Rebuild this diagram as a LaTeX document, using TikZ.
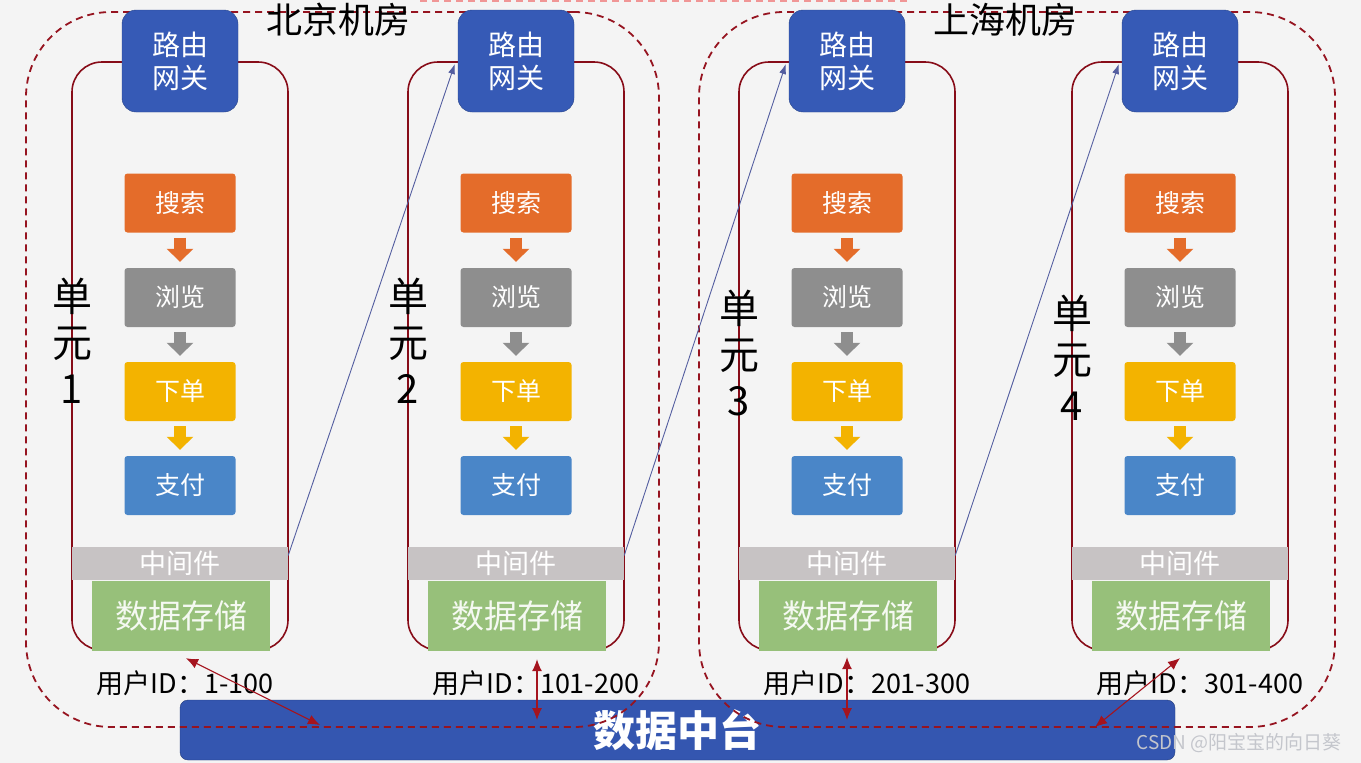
\documentclass[tikz,border=0pt]{standalone}
\usepackage{fontspec}
\setmainfont{Noto Sans CJK SC}
\usetikzlibrary{arrows.meta,positioning,calc}
\definecolor{DuBg}{RGB}{244,244,244}
\definecolor{DuRed}{RGB}{135,12,24}
\definecolor{DuDash}{RGB}{150,20,32}
\definecolor{DuPink}{RGB}{240,150,150}
\definecolor{DuArrow}{RGB}{165,20,30}
\definecolor{DuRoute}{RGB}{54,90,182}
\definecolor{DuOrange}{RGB}{228,108,42}
\definecolor{DuGray}{RGB}{142,142,142}
\definecolor{DuGold}{RGB}{243,179,0}
\definecolor{DuSky}{RGB}{74,134,200}
\definecolor{DuMid}{RGB}{199,195,196}
\definecolor{DuGreen}{RGB}{151,192,122}
\definecolor{DuHub}{RGB}{52,86,176}
\definecolor{DuLink}{RGB}{84,94,160}
\definecolor{DuMark}{RGB}{196,198,204}
\tikzset{
  du/unit/.style={
    draw=DuRed,
    line width=1.6pt,
    rounded corners=30pt,
    minimum width=216pt,
    minimum height=588pt
  },
  du/room/.style={
    draw=DuDash,
    line width=1.8pt,
    dash pattern=on 7pt off 5pt,
    rounded corners=85pt
  },
  du/gateway/.style={
    fill=DuRoute,
    draw=DuRoute!75!black,
    rounded corners=14pt,
    minimum width=116pt,
    minimum height=102pt,
    align=center,
    text=white,
    font=\fontsize{28}{33}\selectfont
  },
  du/proc/.style={
    rounded corners=3pt,
    minimum width=111pt,
    minimum height=59pt,
    text=white,
    font=\fontsize{25}{28}\selectfont
  },
  du/flow/.style={line width=12pt, -{Triangle[length=13pt,width=26pt]}, shorten <=5pt, shorten >=6pt},
  du/mid/.style={fill=DuMid, minimum width=216pt, minimum height=33pt, text=white, font=\fontsize{27}{30}\selectfont},
  du/store/.style={fill=DuGreen, minimum width=178pt, minimum height=70pt, text=white!90!DuGreen, font=\fontsize{33}{36}\selectfont},
  du/range/.style={anchor=west, text=black, font=\fontsize{27}{30}\selectfont},
  du/tag/.style={align=center, text=black, font=\fontsize{40}{46}\selectfont},
  du/roomlabel/.style={text=black, font=\fontsize{36}{38}\selectfont},
  du/hub/.style={
    fill=DuHub,
    draw=DuHub!70!black,
    rounded corners=8pt,
    minimum width=995pt,
    minimum height=60pt,
    text=white,
    font=\fontsize{42}{44}\selectfont\bfseries
  },
  du/mark/.style={text=DuMark, font=\fontsize{19}{21}\selectfont},
  du/sync/.style={{Latex[length=12pt,width=10pt]}-{Latex[length=12pt,width=10pt]}, line width=1.1pt, draw=DuArrow},
  du/link/.style={-{Latex[length=10pt,width=7pt]}, line width=0.9pt, draw=DuLink}
}
\begin{document}
\begin{tikzpicture}[x=1pt,y=-1pt]
  \useasboundingbox (0,0) rectangle (1361,763);
  \clip (0,0) rectangle (1361,763);
  \fill[DuBg] (0,0) rectangle (1361,763);
  \draw[DuPink, line width=1.5pt, dash pattern=on 7pt off 5pt] (420,1) -- (910,1);

  \node[du/hub] (hub) at (677.5,730) {数据中台};
  \node[du/room,minimum width=633pt,minimum height=715pt] (bj) at (342.5,369.5) {};
  \node[du/room,minimum width=636pt,minimum height=715pt] (sh) at (1017,369.5) {};
  \node[du/roomlabel] (bjlabel) at (338,20) {北京机房};
  \node[du/roomlabel] (shlabel) at (1005,20) {上海机房};

  \foreach \i/\x/\ly/\r in {1/72/341/1-100, 2/408/341/101-200, 3/739/353/201-300, 4/1072/358/301-400}{
    \node[du/unit] (unit\i) at (\x+108,356) {};
    \node[du/mid] (mid\i) at (\x+108,563.5) {中间件};
    \node[du/store] (store\i) at (\x+109,616) {数据存储};
    \node[du/gateway] (gw\i) at (\x+108,61) {路由\\网关};
    \node[du/proc,fill=DuOrange] (search\i) at (\x+108,203) {搜索};
    \node[du/proc,fill=DuGray] (browse\i) at (\x+108,297.5) {浏览};
    \node[du/proc,fill=DuGold] (order\i) at (\x+108,391.5) {下单};
    \node[du/proc,fill=DuSky] (pay\i) at (\x+108,485.5) {支付};
    \draw[du/flow,DuOrange] (search\i) -- (browse\i);
    \draw[du/flow,DuGray] (browse\i) -- (order\i);
    \draw[du/flow,DuGold] (order\i) -- (pay\i);
    \node[du/tag] (tag\i) at (\x,\ly) {单\\元\\\i};
    \node[du/range] (range\i) at (\x+21,683) {用户ID：\r};
  }

  % links between units
  \draw[du/link] ([yshift=8pt]mid1.east) -- ([xshift=-3pt,yshift=-3pt]gw2.west);
  \draw[du/link] ([yshift=8pt]mid2.east) -- ([xshift=-3pt,yshift=-3pt]gw3.west);
  \draw[du/link] ([yshift=8pt]mid3.east) -- ([xshift=-3pt,yshift=-3pt]gw4.west);

  % sync with data hub
  \coordinate (sync1) at (320,725);
  \coordinate (sync2) at (537,720);
  \coordinate (sync3) at (847,720);
  \coordinate (sync4) at (1095,727);
  \draw[du/sync] ([xshift=5pt,yshift=-7pt]store1.south) -- (sync1);
  \draw[du/sync] ([xshift=20pt,yshift=-8pt]store2.south) -- (sync2);
  \draw[du/sync] ([xshift=-1pt,yshift=-6pt]store3.south) -- (sync3);
  \draw[du/sync] ([xshift=-1pt,yshift=-7pt]store4.south) -- (sync4);

  \node[du/mark] (mark) at (1239,743) {CSDN @阳宝宝的向日葵};
\end{tikzpicture}
\end{document}
